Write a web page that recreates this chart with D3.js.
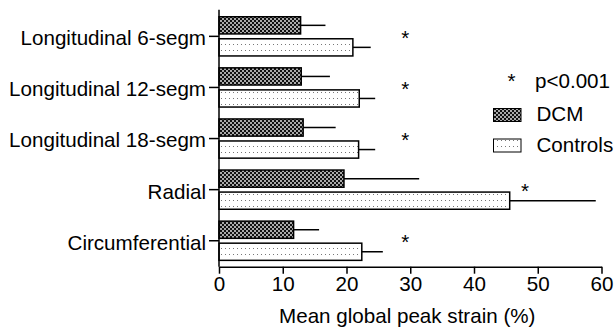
<!DOCTYPE html>
<html>
<head>
<meta charset="utf-8">
<script src="https://cdn.jsdelivr.net/npm/d3@7/dist/d3.min.js"></script>
<style>
  html, body { margin: 0; padding: 0; background: #fff; }
  svg { display: block; }
  text { font-family: "Liberation Sans", Arial, sans-serif; fill: #000; }
</style>
</head>
<body>
<svg id="chart" width="615" height="327"></svg>
<script>
// Strain categories (top to bottom)
const categories = [
  "Longitudinal 6-segm",
  "Longitudinal 12-segm",
  "Longitudinal 18-segm",
  "Radial",
  "Circumferential"
];
// Mean global peak strain (%) and standard deviation per group
const dcmMean = [12.8, 12.9, 13.2, 19.6, 11.7];
const dcmSD = [3.9, 4.5, 5.1, 11.8, 4.0];
const controlMean = [21.0, 22.0, 21.9, 45.6, 22.4];
const controlSD = [2.8, 2.5, 2.6, 13.5, 3.3];
// Significance markers (x position in % units)
const starAt = [29.2, 29.2, 29.2, 48.0, 29.2];
const xTicks = [0, 10, 20, 30, 40, 50, 60];
const seriesNames = ["DCM", "Controls"];

const FS = 20.6;
const svg = d3.select("#chart");
const plotLeft = 219, plotRight = 601.5, plotTop = 10.8, plotBottom = 266.3;

const x = d3.scaleLinear().domain([0, 60]).range([plotLeft, plotRight]);
const y = d3.scaleBand().domain(categories).range([plotTop, plotBottom]).padding(0);
const inner = d3.scaleBand().domain(seriesNames)
  .range([-19.6, 19.6]).paddingInner(0.22);

// Fill patterns
const defs = svg.append("defs");
const pDcm = defs.append("pattern").attr("id", "pat-dcm")
  .attr("patternUnits", "userSpaceOnUse").attr("width", 4).attr("height", 4);
pDcm.append("rect").attr("width", 4).attr("height", 4).attr("fill", "#111");
pDcm.append("rect").attr("x", 0.2).attr("y", 0.2).attr("width", 1.6).attr("height", 1.6).attr("fill", "#fff");
pDcm.append("rect").attr("x", 2.2).attr("y", 2.2).attr("width", 1.6).attr("height", 1.6).attr("fill", "#fff");

const pCtl = defs.append("pattern").attr("id", "pat-ctl")
  .attr("patternUnits", "userSpaceOnUse").attr("width", 4).attr("height", 6);
pCtl.append("rect").attr("width", 4).attr("height", 6).attr("fill", "#fff");
pCtl.append("rect").attr("x", 1).attr("y", 2).attr("width", 1).attr("height", 1).attr("fill", "#777");

const fills = { "DCM": "url(#pat-dcm)", "Controls": "url(#pat-ctl)" };

const rows = categories.map((c, i) => ({
  cat: c,
  bars: [
    { s: "DCM", mean: dcmMean[i], sd: dcmSD[i] },
    { s: "Controls", mean: controlMean[i], sd: controlSD[i] }
  ],
  star: starAt[i]
}));

const cy = c => y(c) + y.bandwidth() / 2;

// Bars and error bars
const g = svg.append("g");
rows.forEach(r => {
  r.bars.forEach(b => {
    const y0 = cy(r.cat) + inner(b.s);
    g.append("line")
      .attr("x1", x(b.mean)).attr("x2", x(b.mean + b.sd))
      .attr("y1", y0 + inner.bandwidth() / 2).attr("y2", y0 + inner.bandwidth() / 2)
      .attr("stroke", "#000").attr("stroke-width", 1.5);
    g.append("rect")
      .attr("x", x(0)).attr("y", y0)
      .attr("width", x(b.mean) - x(0)).attr("height", inner.bandwidth())
      .attr("fill", fills[b.s]).attr("stroke", "#000").attr("stroke-width", 1.5);
  });
  g.append("text")
    .attr("x", x(r.star)).attr("y", cy(r.cat) + 8.5)
    .attr("text-anchor", "middle").attr("font-size", FS).text("*");
});

// Axes
const xAxis = d3.axisBottom(x).tickValues(xTicks).tickSize(7).tickSizeOuter(0).tickPadding(3);
const gx = svg.append("g").attr("transform", `translate(0,${plotBottom + 0.4})`).call(xAxis);
gx.selectAll("text").attr("font-size", FS).attr("font-family", "Liberation Sans, Arial, sans-serif");

const yAxis = d3.axisLeft(y).tickSize(10).tickSizeOuter(0).tickPadding(3);
const gy = svg.append("g").attr("transform", `translate(${plotLeft},0)`).call(yAxis);
gy.selectAll("text").attr("font-size", FS).attr("dy", "0.43em")
  .attr("font-family", "Liberation Sans, Arial, sans-serif");
gy.select(".domain").attr("d", `M0,${plotTop - 1}V${plotBottom + 0.4}`);

[gx, gy].forEach(a => {
  a.selectAll("line").attr("stroke", "#000").attr("stroke-width", 1.5);
  a.select(".domain").attr("stroke", "#000").attr("stroke-width", 1.5);
});

svg.append("text")
  .attr("x", (plotLeft + plotRight) / 2 - 3).attr("y", 323)
  .attr("text-anchor", "middle").attr("font-size", FS)
  .text("Mean global peak strain (%)");

// Legend
const lg = svg.append("g");
lg.append("text").attr("x", 511.5).attr("y", 88).attr("text-anchor", "middle")
  .attr("font-size", FS).text("*");
lg.append("text").attr("x", 535).attr("y", 88).attr("font-size", FS).text("p<0.001");
seriesNames.forEach((s, i) => {
  const yy = 108.5 + i * 30.5;
  lg.append("rect").attr("x", 493.5).attr("y", yy).attr("width", 27.5).attr("height", 13)
    .attr("fill", fills[s]).attr("stroke", "#000").attr("stroke-width", 1);
  lg.append("text").attr("x", 536.5).attr("y", yy + 12.5).attr("font-size", FS).text(s);
});
</script>
</body>
</html>
